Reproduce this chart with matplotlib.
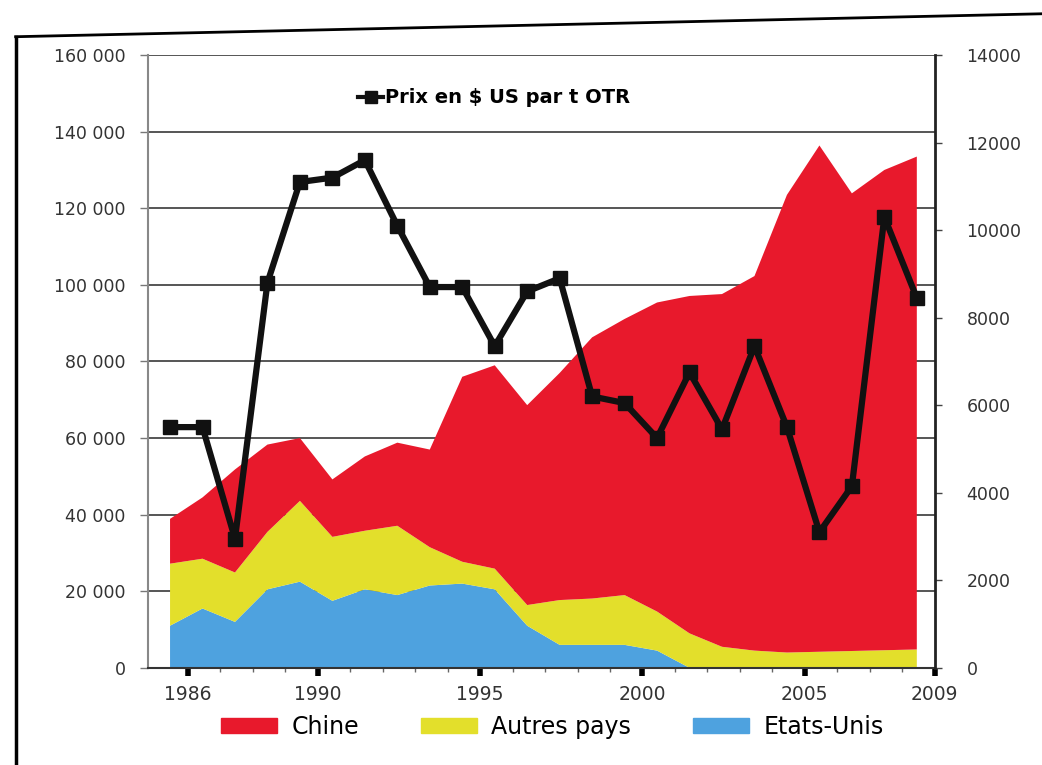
import matplotlib.pyplot as plt
from matplotlib.lines import Line2D
from matplotlib.patches import Patch

# données
years = list(range(1986, 2010))
etats_unis = [11000, 15500, 12000, 20500, 22500, 17500, 20500, 19000, 21500, 22000, 20500, 11000,
              6000, 6000, 6000, 4500, 0, 0, 0, 0, 0, 0, 0, 0]
autres_pays = [16200, 13000, 12900, 15000, 21100, 16700, 15300, 18100, 10000, 5700, 5400, 5400,
               11700, 12100, 13000, 10200, 9000, 5500, 4500, 4000, 4200, 4400, 4600, 4800]
chine = [11700, 16000, 26900, 22800, 16400, 15000, 19400, 21700, 25500, 48300, 53100, 52200,
         59300, 68200, 72100, 80700, 88100, 92100, 97800, 119500, 132200, 119500, 125400, 128700]
prix = [5500, 5500, 2950, 8800, 11100, 11200, 11600, 10100, 8700, 8700, 7350, 8600,
        8900, 6200, 6050, 5250, 6750, 5450, 7350, 5500, 3100, 4150, 10300, 8450]

left_ticks = [0, 20000, 40000, 60000, 80000, 100000, 120000, 140000, 160000]
right_ticks = [0, 2000, 4000, 6000, 8000, 10000, 12000, 14000]
year_labels = [1986, 1990, 1995, 2000, 2005, 2009]

c_chine = '#e8192c'
c_autres = '#e3df2b'
c_us = '#4ea2df'

fig = plt.figure(figsize=(10.42, 7.65), dpi=100)
ax = fig.add_axes([0.142, 0.127, 0.755, 0.801])

ax.stackplot(years, etats_unis, autres_pays, chine,
             colors=[c_us, c_autres, c_chine], edgecolor='none')

ax.set_xlim(1985.32, 2009.55)
ax.set_ylim(0, 160000)
ax.set_yticks(left_ticks)
ax.set_yticklabels(['0' if v == 0 else f'{v:,}'.replace(',', ' ') for v in left_ticks])
ax.yaxis.grid(True, color='#555555', lw=1.4)
ax.set_axisbelow(True)

ax.set_xticks([y + 0.55 for y in year_labels])
ax.set_xticklabels([str(y) for y in year_labels])
ax.set_xticks([y + 0.55 for y in years], minor=True)
ax.tick_params(axis='x', which='major', length=6, width=4, color='black', labelsize=13.5,
               labelcolor='#333333', pad=6)
ax.tick_params(axis='x', which='minor', length=3, width=1, color='#666666')
ax.tick_params(axis='y', length=6, width=1, color='#777777', labelsize=12.5,
               labelcolor='#333333', pad=10)

ax.spines['top'].set_visible(False)
ax.spines['left'].set_color('#888888')
ax.spines['left'].set_linewidth(1.5)
ax.spines['bottom'].set_color('#333333')
ax.spines['bottom'].set_linewidth(1.5)
ax.spines['right'].set_visible(False)

# prix
ax2 = ax.twinx()
ax2.plot(years, prix, color='#111111', lw=4.5, marker='s', ms=10)
ax2.set_ylim(0, 14000)
ax2.set_yticks(right_ticks)
ax2.tick_params(axis='y', length=5, width=1, color='#444444', labelsize=12.5,
                labelcolor='#333333', pad=18)
ax2.spines['right'].set_color('#222222')
ax2.spines['right'].set_linewidth(2)
for s in ['top', 'left', 'bottom']:
    ax2.spines[s].set_visible(False)

ax2.legend(handles=[Line2D([], [], color='#111111', lw=3, marker='s', ms=8)],
           labels=['Prix en $ US par t OTR'], loc='center',
           bbox_to_anchor=(0.44, 0.93), frameon=False,
           prop={'size': 14, 'weight': 'bold'},
           handlelength=1.3, handletextpad=0.1)

fig.legend(handles=[Patch(color=c_chine), Patch(color=c_autres), Patch(color=c_us)],
           labels=['Chine', 'Autres pays', 'Etats-Unis'], loc='center',
           bbox_to_anchor=(0.53, 0.05), ncol=3, frameon=False, fontsize=17,
           handlelength=2.4, handleheight=0.6, columnspacing=2.6, handletextpad=0.6)

# bord de la page scannée
fig.add_artist(Line2D([0.015, 0.015], [0.0, 0.952], color='black', lw=2.5))
fig.add_artist(Line2D([0.015, 1.0], [0.952, 0.982], color='black', lw=2))

fig.savefig('out.png', dpi=100)
